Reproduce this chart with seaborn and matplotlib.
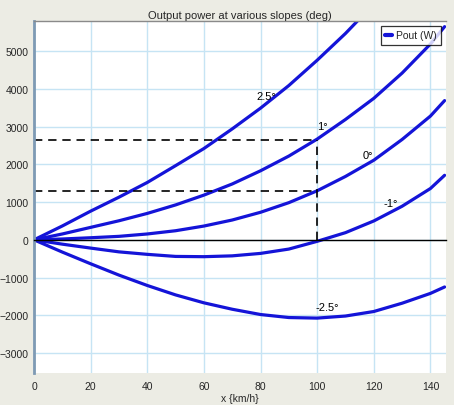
import matplotlib
matplotlib.use("Agg")
import matplotlib.pyplot as plt
from matplotlib.lines import Line2D
import seaborn as sns
import pandas as pd

# ---- data ----
speed = [0, 10, 20, 30, 40, 50, 60, 70, 80, 90, 100, 110, 120, 130, 140, 145]
p_2_5 = [0, 367, 760, 1130, 1520, 1966, 2420, 2940, 3490, 4090, 4760, 5470, 6250, None, None, None]
p_1 = [0, 155, 330, 505, 700, 925, 1185, 1480, 1830, 2220, 2670, 3190, 3750, 4420, 5190, 5650]
p_0 = [0, 22, 55, 92, 155, 241, 365, 525, 730, 985, 1300, 1680, 2110, 2660, 3280, 3690]
p_m1 = [0, -115, -219, -319, -385, -440, -447, -425, -360, -245, -40, 190, 500, 890, 1360, 1710]
p_m2_5 = [0, -325, -635, -935, -1210, -1460, -1670, -1840, -1980, -2060, -2075, -2020, -1900, -1680, -1420, -1250]

slope_labels = ["2.5°", "1°", "0°", "-1°", "-2.5°"]
label_x = [82, 102, 118, 125.8, 103.5]
label_y = [3810, 3015, 2250, 980, -1770]

ref_speed = 100
ref_powers = [1290, 2650]

x_ticks = [0, 20, 40, 60, 80, 100, 120, 140]
y_ticks = [-3000, -2000, -1000, 0, 1000, 2000, 3000, 4000, 5000]

rows = []
for name, vals in zip(slope_labels, [p_2_5, p_1, p_0, p_m1, p_m2_5]):
    for s, v in zip(speed, vals):
        if v is not None:
            rows.append({"speed": s, "power": v, "slope": name})
df = pd.DataFrame(rows)

sns.set_style("white")
plt.rcParams["font.family"] = ["Liberation Sans", "DejaVu Sans"]

BG = "#ECECE4"
BLUE = "#1414D8"
GRID = "#C6E4F4"

fig = plt.figure(figsize=(4.54, 4.06), dpi=100, facecolor=BG)
ax = fig.add_axes([34 / 454, 32 / 406, 412 / 454, 352 / 406])
ax.set_facecolor("white")

sns.lineplot(data=df, x="speed", y="power", units="slope", estimator=None,
             color=BLUE, lw=2.3, ax=ax, legend=False, sort=True)

ax.set_xlim(0, 145.5)
ax.set_ylim(-3530, 5800)

# grid
ax.set_xticks(x_ticks)
ax.set_yticks(y_ticks)
ax.grid(True, color=GRID, lw=1.0)
ax.set_axisbelow(True)

# spines
for s in ["right"]:
    ax.spines[s].set_visible(False)
ax.spines["top"].set_color("#8A8A8A")
ax.spines["top"].set_linewidth(1.0)
ax.spines["left"].set_color("#7E9AB4")
ax.spines["left"].set_linewidth(2.0)
ax.spines["bottom"].set_position(("data", 0))
ax.spines["bottom"].set_color("black")
ax.spines["bottom"].set_linewidth(1.0)
ax.tick_params(axis="x", direction="inout", length=6, width=0.9, color="black",
               labelbottom=False)
ax.tick_params(axis="y", length=0, labelsize=7.5, pad=4)

sec = ax.secondary_xaxis(0.0)
sec.set_xticks(x_ticks)
sec.tick_params(length=0, labelsize=7.5, pad=6)
sec.spines["bottom"].set_visible(False)
sec.set_xlabel("x {km/h}", fontsize=7.5, labelpad=1)

ax.set_xlabel("")
ax.set_ylabel("")

# reference dashed lines
for p in ref_powers:
    ax.plot([0, ref_speed], [p, p], color="black", lw=1.2, ls=(0, (5, 3.5)))
ax.plot([ref_speed, ref_speed], [0, max(ref_powers)], color="black", lw=1.2,
        ls=(0, (5, 3.5)))

# curve labels
for t, x, y in zip(slope_labels, label_x, label_y):
    ax.text(x, y, t, fontsize=8, ha="center", va="center", color="black")

ax.set_title("Output power at various slopes (deg)", fontsize=8, pad=2)

handle = Line2D([0], [0], color=BLUE, lw=3)
leg = ax.legend([handle], ["Pout (W)"], loc="upper right", fontsize=7.5,
                frameon=True, fancybox=False, handlelength=0.6,
                handletextpad=0.4, borderpad=0.4, borderaxespad=0.5)
leg.get_frame().set_edgecolor("black")
leg.get_frame().set_linewidth(0.9)

fig.savefig("out.png", dpi=100, facecolor=BG)
